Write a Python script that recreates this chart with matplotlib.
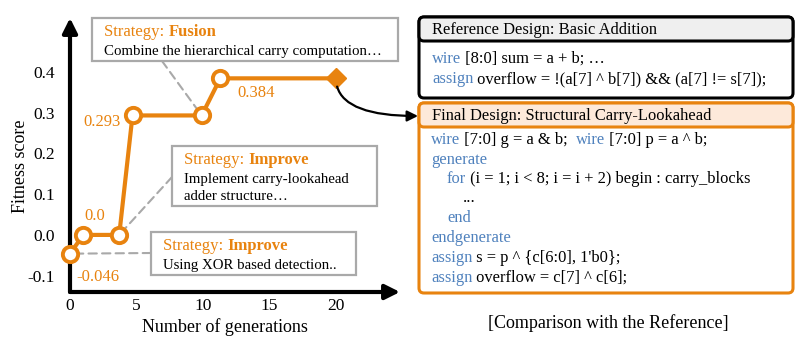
import matplotlib
matplotlib.use("Agg")
import matplotlib.pyplot as plt
from matplotlib.patches import FancyBboxPatch, Rectangle, ConnectionPatch

plt.rcParams['font.family'] = ['Liberation Serif', 'DejaVu Serif']

# ---- data ----
generations = [0, 1, 3.7, 4.7, 9.9, 11.3]
fitness = [-0.046, 0.0, 0.0, 0.293, 0.293, 0.384]
final_gen = 20
final_fit = 0.384
x_ticks = [0, 5, 10, 15, 20]
y_ticks = [-0.1, 0.0, 0.1, 0.2, 0.3, 0.4]
y_tick_labels = ['-0.1', '0.0', '0.1', '0.2', '0.3', '0.4']
value_labels = ['-0.046', '0.0', '0.293', '0.384']

ORANGE = '#E8830F'
BLUE = '#4F81BD'
GRAY = '#A9A9A9'

W, H = 797, 345
fig = plt.figure(figsize=(W / 100, H / 100), dpi=100)

# left axes in pixel geometry
L, R, T, B = 70, 400, 18, 292
ax = fig.add_axes([L / W, (H - B) / H, (R - L) / W, (B - T) / H])
ax.set_xlim(0, (R - L) / 13.3)
ax.set_ylim(-0.14, 0.532)
for s in ax.spines.values():
    s.set_visible(False)
ax.set_xticks(x_ticks)
ax.set_xticklabels([str(t) for t in x_ticks])
ax.set_yticks(y_ticks)
ax.set_yticklabels(y_tick_labels)
ax.tick_params(axis='both', length=0, labelsize=12.5)
ax.tick_params(axis='y', pad=11)
ax.tick_params(axis='x', pad=4)
ax.patch.set_alpha(0)

# axis arrows
ax.annotate('', xy=(1.0, 0), xycoords='axes fraction', xytext=(0, 0),
            arrowprops=dict(arrowstyle='-|>', lw=3, color='black', mutation_scale=22,
                            shrinkA=0, shrinkB=0), annotation_clip=False)
ax.annotate('', xy=(0, 1.0), xycoords='axes fraction', xytext=(0, 0),
            arrowprops=dict(arrowstyle='-|>', lw=3, color='black', mutation_scale=22,
                            shrinkA=0, shrinkB=0), annotation_clip=False)

ax.set_xlabel('Number of generations', fontsize=13)
ax.xaxis.set_label_coords(0.468, -0.095)
ax.set_ylabel('Fitness score', fontsize=13)
ax.yaxis.set_label_coords(-0.125, 0.46)

# line
ax.plot(generations + [final_gen], fitness + [final_fit], color=ORANGE, lw=3, zorder=3,
        solid_capstyle='round')
ax.plot(generations, fitness, 'o', ms=11, mfc='white', mec=ORANGE, mew=2.8, zorder=4,
        clip_on=False)
ax.plot([final_gen], [final_fit], 'D', ms=10, color=ORANGE, zorder=4)

# value labels
VS = 12
ax.annotate(value_labels[0], (generations[0], fitness[0]), xytext=(6, -23),
            textcoords='offset pixels', color=ORANGE, fontsize=VS, ha='left', va='center')
ax.annotate(value_labels[1], (generations[1], fitness[1]), xytext=(11, 19),
            textcoords='offset pixels', color=ORANGE, fontsize=VS, ha='center', va='center')
ax.annotate(value_labels[2], (generations[3], fitness[3]), xytext=(-12, -7),
            textcoords='offset pixels', color=ORANGE, fontsize=VS, ha='right', va='center')
ax.annotate(value_labels[3], (generations[5], fitness[5]), xytext=(36, -15),
            textcoords='offset pixels', color=ORANGE, fontsize=VS, ha='center', va='center')

# overlay axes in pixel units
ov = fig.add_axes([0, 0, 1, 1])
ov.set_xlim(0, W)
ov.set_ylim(H, 0)
ov.axis('off')
ov.patch.set_alpha(0)

renderer = fig.canvas.get_renderer()


def runs(x, y, parts, size):
    for s, color, weight in parts:
        t = ov.text(x, y, s, color=color, fontsize=size, fontweight=weight,
                    ha='left', va='center')
        bb = t.get_window_extent(renderer)
        x += bb.width


# connectors (in left axes, under markers)
def connector(px, py, gi):
    cp = ConnectionPatch(xyA=(px, py), coordsA=ov.transData,
                         xyB=(generations[gi], fitness[gi]), coordsB=ax.transData,
                         color=GRAY, lw=1.5, ls=(0, (4, 2.5)), zorder=2)
    ax.add_artist(cp)


connector(162, 61, 4)
connector(172, 177, 2)
connector(151, 253, 0)

# strategy boxes
boxes = [
    ((92, 18, 398, 61), 'Fusion', ['Combine the hierarchical carry computation…']),
    ((172, 146, 377, 206), 'Improve', ['Implement carry-lookahead', 'adder structure…']),
    ((151, 232, 356, 275), 'Improve', ['Using XOR based detection..']),
]
for (x0, y0, x1, y1), strat, lines in boxes:
    ov.add_patch(Rectangle((x0, y0), x1 - x0, y1 - y0, fc='white', ec=GRAY, lw=1.6, zorder=5))
    tx = x0 + 12
    t = ov.text(tx, y0 + 14, 'Strategy: ', color=ORANGE, fontsize=12, ha='left', va='center',
                zorder=6)
    bb = t.get_window_extent(renderer)
    ov.text(tx + bb.width, y0 + 14, strat, color=ORANGE, fontsize=12, fontweight='bold',
            ha='left', va='center', zorder=6)
    for i, ln in enumerate(lines):
        ov.text(tx, y0 + 33 + i * 17.5, ln, color='black', fontsize=10.7, ha='left',
                va='center', zorder=6)

# right panel: reference box
HS = 11.9
ov.add_patch(FancyBboxPatch((419, 17), 374, 81, boxstyle='round,pad=0,rounding_size=5',
                            fc='white', ec='black', lw=2.2, zorder=3))
ov.add_patch(FancyBboxPatch((419, 17), 374, 24, boxstyle='round,pad=0,rounding_size=5',
                            fc='#EFEFEF', ec='black', lw=2.2, zorder=4))
ov.text(432, 30, 'Reference Design: Basic Addition', fontsize=HS, ha='left', va='center',
        zorder=5)
CS = 11.9
runs(432, 59, [('wire', BLUE, 'normal'), (' [8:0] sum = a + b; …', 'black', 'normal')], CS)
runs(432, 79, [('assign', BLUE, 'normal'),
               (' overflow = !(a[7] ^ b[7]) && (a[7] != s[7]);', 'black', 'normal')], CS)

# final design box
ov.add_patch(FancyBboxPatch((419, 103), 374, 190, boxstyle='round,pad=0,rounding_size=5',
                            fc='white', ec=ORANGE, lw=2.2, zorder=3))
ov.add_patch(FancyBboxPatch((419, 103), 374, 24, boxstyle='round,pad=0,rounding_size=5',
                            fc='#FDE9DA', ec=ORANGE, lw=2.2, zorder=4))
ov.text(432, 116, 'Final Design: Structural Carry-Lookahead', fontsize=HS, ha='left',
        va='center', zorder=5)
code = [
    (431, 140, [('wire', BLUE), (' [7:0] g = a & b;  ', 'black'), ('wire', BLUE),
                (' [7:0] p = a ^ b;', 'black')]),
    (431, 160, [('generate', BLUE)]),
    (447, 179, [('for', BLUE), (' (i = 1; i < 8; i = i + 2) begin : carry_blocks', 'black')]),
    (463, 198, [('...', 'black')]),
    (447, 218, [('end', BLUE)]),
    (431, 238, [('endgenerate', BLUE)]),
    (431, 258, [('assign', BLUE), (" s = p ^ {c[6:0], 1'b0};", 'black')]),
    (431, 278, [('assign', BLUE), (' overflow = c[7] ^ c[6];', 'black')]),
]
for x, y, parts in code:
    runs(x, y, [(s, c, 'normal') for s, c in parts], CS)

# curved arrow from final point to final design box
ov.annotate('', xy=(418, 116), xycoords='data', xytext=(final_gen, final_fit),
            textcoords=ax.transData,
            arrowprops=dict(arrowstyle='-|>', color='black', lw=1.6, mutation_scale=16,
                            shrinkA=6, shrinkB=0,
                            connectionstyle='angle3,angleA=-90,angleB=0'))

ov.text(608, 323, '[Comparison with the Reference]', fontsize=13, ha='center', va='center')

fig.savefig('out.png', dpi=100)
